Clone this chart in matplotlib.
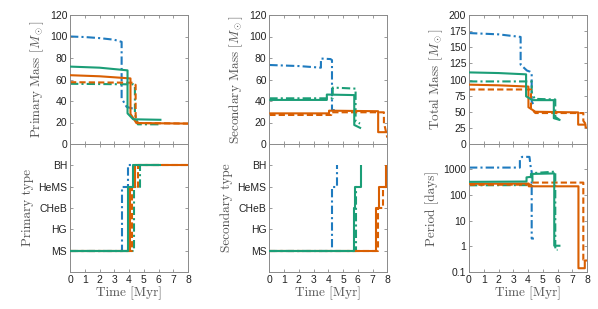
import matplotlib
matplotlib.use('Agg')
import matplotlib.pyplot as plt
import numpy as np

plt.rcParams.update({'font.family': 'Liberation Sans', 'font.size': 7.5,
                     'mathtext.fontset': 'cm'})

GREEN = '#1b9e77'
ORANGE = '#d95f02'
BLUE = '#1f7bbf'

# series order: green solid, orange solid, green dash-dot, orange dashed, blue dash-dot
series_names = ['green_solid', 'orange_solid', 'green_dash', 'orange_dash', 'blue_dash']
type_labels = ['MS', 'HG', 'CHeB', 'HeMS', 'BH']

# Primary mass [Msun]
pri_mass = {
    'green_solid': ([0, 2, 3.9, 3.9, 4.28, 6.2], [72, 71, 68.5, 28.5, 23, 22.5]),
    'orange_solid': ([0, 2, 4.1, 4.1, 4.5, 8], [64, 63, 61, 28, 19.5, 19]),
    'green_dash': ([0, 4.3, 4.4, 4.4, 4.6, 6.1], [56, 55.5, 54, 28, 18.3, 18.3]),
    'orange_dash': ([0, 4.3, 4.45, 4.45, 4.6, 8], [57.5, 57, 55, 25, 19.5, 19]),
    'blue_dash': ([0, 1, 2, 3, 3.5, 3.5, 3.84, 4.25], [100, 99.5, 98.5, 97, 95, 42.5, 34.5, 33]),
}

# Primary stellar type (0=MS .. 4=BH)
pri_type = {
    'green_solid': ([0, 3.9, 3.9, 4.25, 4.25, 6.2], [0, 0, 3, 3, 4, 4]),
    'orange_solid': ([0, 4.05, 4.05, 4.4, 4.4, 8], [0, 0, 3, 3, 4, 4]),
    'green_dash': ([0, 4.35, 4.35, 4.75, 4.75, 6.2], [0, 0, 3, 3, 4, 4]),
    'orange_dash': ([0, 4.2, 4.2, 4.6, 4.6, 8], [0, 0, 3, 3, 4, 4]),
    'blue_dash': ([0, 3.5, 3.5, 3.9, 3.9, 4.25], [0, 0, 3, 3, 4, 4]),
}

# Secondary mass [Msun]
sec_mass = {
    'green_solid': ([0, 3.9, 3.9, 5.76, 5.76, 6.22], [41, 41, 46, 45.5, 17.7, 14.6]),
    'orange_solid': ([0, 4.05, 4.05, 7.38, 7.38, 8], [28.5, 28.5, 31, 30.5, 11, 11]),
    'green_dash': ([0, 4.3, 4.3, 5.85, 5.85, 6.15], [42.5, 42.5, 52.5, 51.5, 21, 19]),
    'orange_dash': ([0, 4.2, 4.2, 7.77, 7.77, 8], [27, 27, 29.5, 29.5, 20, 6]),
    'blue_dash': ([0, 2, 3.5, 3.5, 4.15, 4.25, 4.25, 4.55], [73.5, 72.5, 71, 79.5, 79, 78, 31.5, 31.5]),
}

# Secondary stellar type
sec_type = {
    'green_solid': ([0, 5.72, 5.72, 5.8, 5.8, 6.2, 6.2], [0, 0, 2, 2, 3, 3, 4]),
    'orange_solid': ([0, 7.2, 7.2, 7.45, 7.45, 7.9, 7.9], [0, 0, 2, 2, 3, 3, 4]),
    'green_dash': ([0, 5.86, 5.86, 5.95], [0, 0, 3, 3]),
    'orange_dash': ([0, 7.38, 7.38, 7.74, 7.74, 8], [0, 0, 2, 2, 3, 3]),
    'blue_dash': ([0, 4.22, 4.22, 4.56, 4.56], [0, 0, 3, 3, 4]),
}

# Total mass [Msun]
tot_mass = {
    'green_solid': ([0, 2, 3.87, 3.87, 4.3, 5.75, 5.75, 6.2], [111, 110, 108, 74, 68, 68, 40, 37]),
    'orange_solid': ([0, 2, 4.03, 4.03, 4.5, 7.4, 7.4, 7.9, 7.9, 8],
                     [92, 91, 89, 57, 50, 49, 30, 30, 26, 25]),
    'green_dash': ([0, 4.25, 4.25, 4.45, 5.85, 5.85, 6.1], [97, 97, 80, 70, 69, 42, 38]),
    'orange_dash': ([0, 4.2, 4.2, 4.5, 7.75, 7.75, 8], [84.5, 84.5, 55, 48, 48, 36, 28]),
    'blue_dash': ([0, 2, 3.5, 3.5, 3.92, 4.15, 4.25, 4.25, 4.35],
                  [172, 170, 166, 123, 114, 112, 110, 66, 62]),
}

# Orbital period [days]
period = {
    'green_solid': ([0, 3.9, 3.9, 4.2, 4.2, 5.78, 5.78, 6.2], [320, 330, 480, 500, 650, 680, 1.05, 1.05]),
    'orange_solid': ([0, 4.05, 4.05, 7.42, 7.42, 7.85, 7.85, 8],
                     [270, 275, 215, 215, 0.14, 0.14, 0.28, 0.28]),
    'green_dash': ([0, 4.3, 4.3, 5.85, 5.85, 6.0], [235, 240, 700, 800, 0.72, 0.72]),
    'orange_dash': ([0, 4.2, 4.2, 7.75, 7.75, 7.9], [245, 250, 300, 300, 0.3, 0.3]),
    'blue_dash': ([0, 3.45, 3.45, 3.6, 4.1, 4.2, 4.25, 4.25, 4.4],
                  [1150, 1150, 2500, 3000, 3000, 1000, 800, 2, 2]),
}

styles = {
    'green_solid': dict(color=GREEN, ls='-', lw=1.5, zorder=4),
    'orange_solid': dict(color=ORANGE, ls='-', lw=1.5, zorder=3),
    'green_dash': dict(color=GREEN, ls=(0, (4, 1.5, 1, 1.5)), lw=1.5, zorder=2),
    'orange_dash': dict(color=ORANGE, ls=(0, (3, 1.5)), lw=1.5, zorder=2),
    'blue_dash': dict(color=BLUE, ls=(0, (4, 1.5, 1, 1.5)), lw=1.5, zorder=1),
}

fig = plt.figure(figsize=(5.98, 3.09), dpi=100)

col_x = [70 / 598, 269.3 / 598, 469 / 598]
col_w = 118 / 598
top_y, top_h = 1 - 144 / 309, 129 / 309
bot_y, bot_h = 1 - 272 / 309, 128 / 309

label_kw = dict(fontfamily='cmr10', fontsize=9.5, color='#555555')
spine_c = '#8a8a8a'


def style_axis(ax, show_x):
    for s in ax.spines.values():
        s.set_color(spine_c)
        s.set_linewidth(0.7)
    ax.tick_params(direction='in', top=True, right=True, length=2.5, width=0.6,
                   color=spine_c, labelcolor='#222222', pad=2)
    ax.tick_params(which='minor', length=0)
    ax.set_xlim(0, 8)
    ax.set_xticks(np.arange(0, 9, 1))
    if show_x:
        ax.set_xlabel('Time [Myr]', labelpad=1, **label_kw)
    else:
        ax.set_xticklabels([])


def draw(ax, data):
    for name in series_names:
        t, v = data[name]
        ax.plot(t, v, solid_capstyle='butt', dash_capstyle='butt', **styles[name])


panels_top = [(pri_mass, 'Primary Mass $[M_\\odot]$', (0, 120), np.arange(0, 121, 20)),
              (sec_mass, 'Secondary Mass $[M_\\odot]$', (0, 120), np.arange(0, 121, 20)),
              (tot_mass, 'Total Mass $[M_\\odot]$', (0, 200), np.arange(0, 201, 25))]

for i, (data, lab, lim, ticks) in enumerate(panels_top):
    ax = fig.add_axes([col_x[i], top_y, col_w, top_h])
    draw(ax, data)
    ax.set_ylim(*lim)
    ax.set_yticks(ticks)
    ax.set_ylabel(lab, labelpad=3, **label_kw)
    style_axis(ax, False)

for i, (data, lab) in enumerate([(pri_type, 'Primary type'), (sec_type, 'Secondary type')]):
    ax = fig.add_axes([col_x[i], bot_y, col_w, bot_h])
    draw(ax, data)
    ax.set_ylim(-1, 5)
    ax.set_yticks(range(len(type_labels)))
    ax.set_yticklabels(type_labels)
    ax.set_ylabel(lab, labelpad=3, **label_kw)
    style_axis(ax, True)

ax = fig.add_axes([col_x[2], bot_y, col_w, bot_h])
draw(ax, period)
ax.set_yscale('log')
ax.set_ylim(0.1, 9500)
ax.set_yticks([0.1, 1, 10, 100, 1000])
ax.set_yticklabels(['0.1', '1', '10', '100', '1000'])
ax.set_ylabel('Period [days]', labelpad=3, **label_kw)
style_axis(ax, True)

fig.savefig('out.png', dpi=100)
